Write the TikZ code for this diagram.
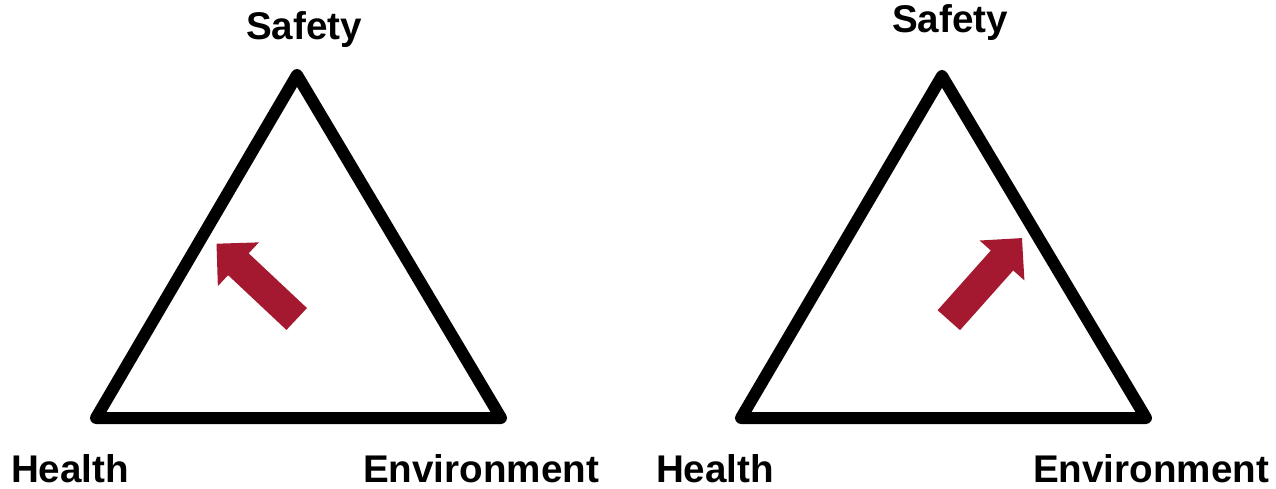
\documentclass[tikz,border=0pt]{standalone}
\usepackage{fontspec}
\setmainfont{Liberation Sans}
\definecolor{crimson}{RGB}{165,25,48}
\begin{document}
\begin{tikzpicture}[x=1pt,y=1pt,
  tri/.style={draw=black,line width=12pt,line join=round},
  lbl/.style={font=\fontsize{38.6}{40}\selectfont\bfseries,anchor=base,inner sep=0pt},
  bigarrow/.style={fill=crimson}]
\useasboundingbox (0,0) rectangle (1276,488);
% left triangle
\coordinate (LA) at (297,413);
\coordinate (LB) at (96,70);
\coordinate (LC) at (501,70);
\draw[tri] (LA) -- (LB) -- (LC) -- cycle;
\node[lbl] (ls) at (304,448) {Safety};
\node[lbl] (lh) at (70,6) {Health};
\node[lbl] (le) at (481,6) {Environment};
\coordinate (lt) at (296.7,169);
\fill[bigarrow,shift={(lt)},rotate=136.8] (0,-15) -- (80,-15) -- (80,-30) -- (110,0) -- (80,30) -- (80,15) -- (0,15) -- cycle;
% right triangle
\coordinate (RA) at (942,412);
\coordinate (RB) at (741,70);
\coordinate (RC) at (1146,70);
\draw[tri] (RA) -- (RB) -- (RC) -- cycle;
\node[lbl] (rs) at (950,455) {Safety};
\node[lbl] (rh) at (715,6) {Health};
\node[lbl] (re) at (1151,6) {Environment};
\coordinate (rt) at (948.8,167.8);
\fill[bigarrow,shift={(rt)},rotate=48.3] (0,-15) -- (80,-15) -- (80,-30) -- (110,0) -- (80,30) -- (80,15) -- (0,15) -- cycle;
\end{tikzpicture}
\end{document}
